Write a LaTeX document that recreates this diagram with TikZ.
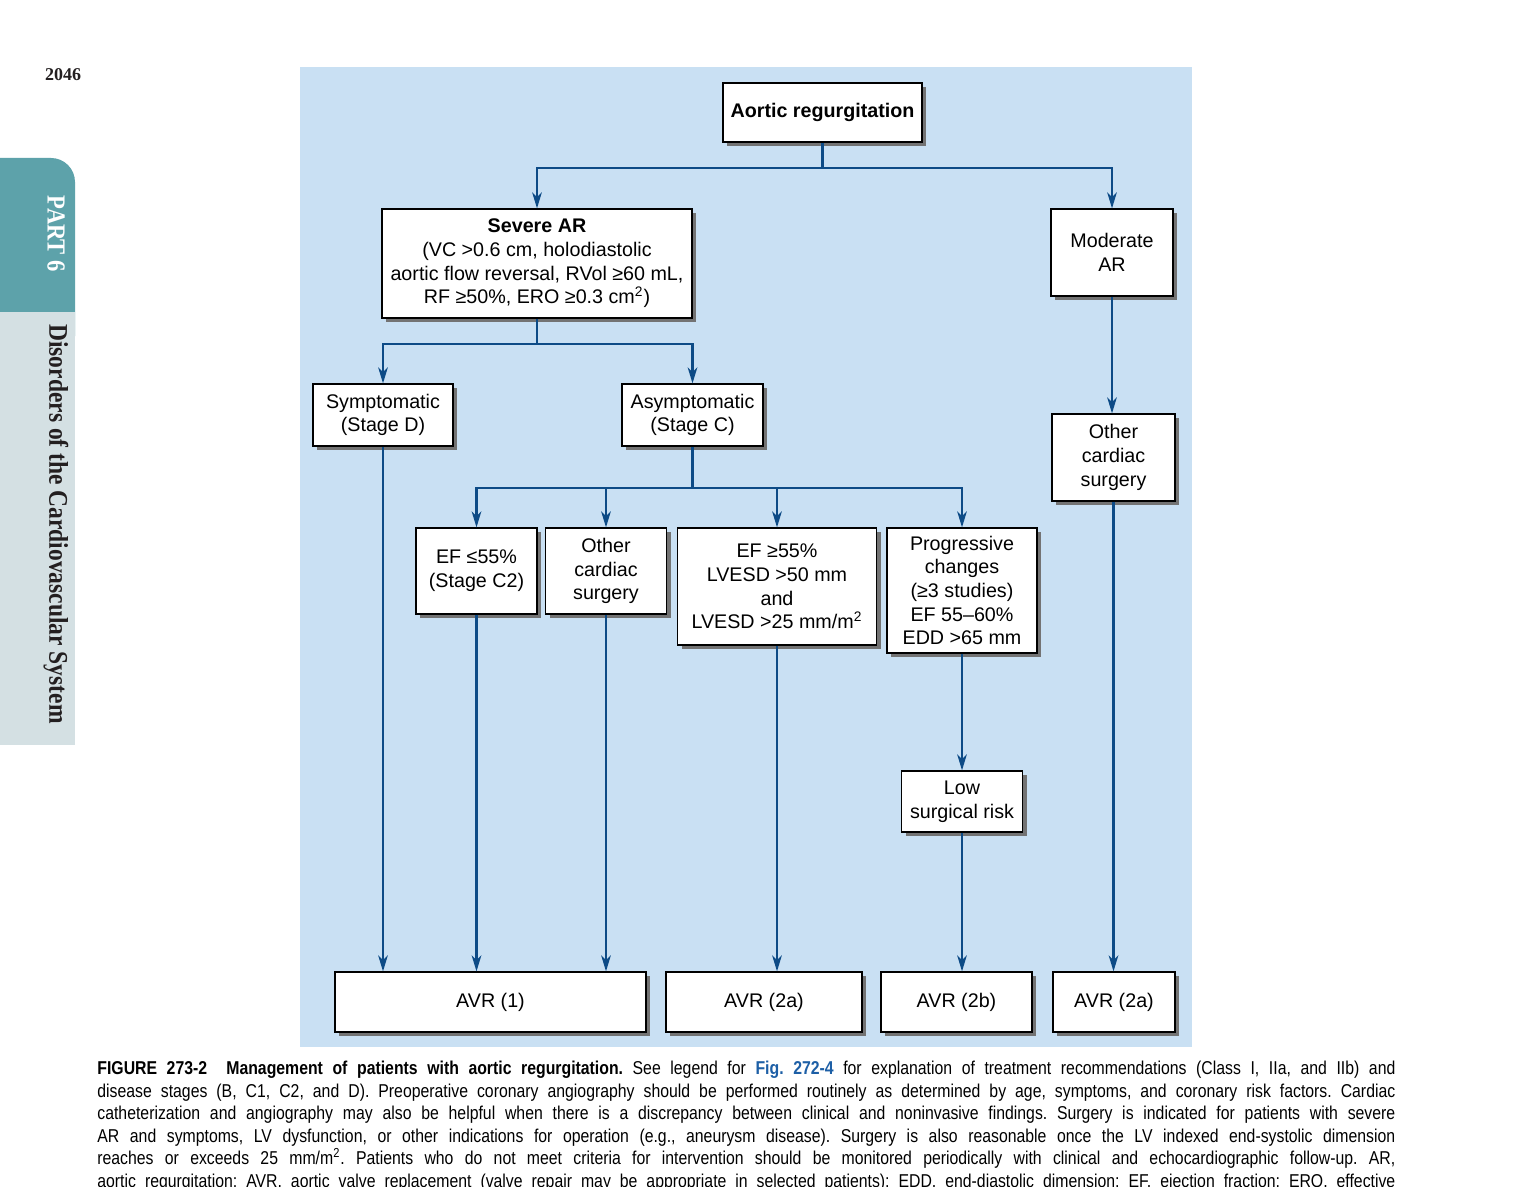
\documentclass[tikz,border=0pt]{standalone}
\usepackage{fontspec}
\setmainfont{Liberation Sans}
\newfontfamily\capfont[FakeStretch=0.85]{Liberation Sans}
\newfontfamily\tabfont[FakeStretch=0.87]{Liberation Serif}
\newfontfamily\pgnfont{Liberation Serif}
\usetikzlibrary{arrows.meta,shadows}
\definecolor{panelblue}{HTML}{C9E0F3}
\definecolor{linkblue}{HTML}{0D4B86}
\definecolor{tabteal}{HTML}{5DA2AA}
\definecolor{tabgray}{HTML}{D4E0E3}
\definecolor{figblue}{HTML}{1D5FA6}
\definecolor{tabtext}{HTML}{231F20}
\newcommand\bxfont{\fontsize{9.85pt}{11.85pt}\selectfont}
\begin{document}
\frenchspacing
\begin{tikzpicture}[x=0.5pt,y=-0.5pt,
  box/.style={draw=black, line width=0.6pt, fill=white, align=center, inner sep=0pt,
    font=\bxfont,
    drop shadow={shadow xshift=2.2pt, shadow yshift=-2.2pt, fill=black!55, opacity=1}},
  bbox/.style={box, font=\bxfont\bfseries},
  arr/.style={draw=linkblue, line width=1.2pt, -{Stealth[length=8pt,width=4.8pt,inset=2.4pt]}},
  ln/.style={draw=linkblue, line width=1.2pt}]
\useasboundingbox (0,0) rectangle (1530,1187);
\clip (0,0) rectangle (1530,1187);
\fill[white] (0,0) rectangle (1530,1187);
% side tab
\fill[tabteal, rounded corners=12pt] (-40,158) rectangle (75,360);
\fill[tabgray] (0,312) rectangle (75,745);
\node[rotate=-90, text=white, font=\tabfont\bfseries\fontsize{13pt}{13pt}\selectfont] (part) at (56,234) {PART 6};
\node[rotate=-90, text=tabtext, font=\tabfont\bfseries\fontsize{13.5pt}{13.5pt}\selectfont] (tabtitle) at (56,524) {Disorders of the Cardiovascular System};
\node[text=tabtext, font=\pgnfont\bfseries\fontsize{9pt}{9pt}\selectfont] (pgno) at (63,75) {2046};
% panel
\fill[panelblue] (300,67) rectangle (1192,1047);
% boxes
\node[bbox, minimum width=99.5pt, minimum height=29.5pt] (ar) at (822.5,112.5) {Aortic regurgitation};
\node[box, minimum width=155pt, minimum height=54.5pt] (severe) at (537,263.5)
  {\textbf{Severe AR}\\(VC >0.6 cm, holodiastolic\\aortic flow reversal, RVol ≥60 mL,\\RF ≥50\%, ERO ≥0.3 cm\textsuperscript{2})};
\node[box, minimum width=61pt, minimum height=43.5pt] (moderate) at (1112,252.5) {Moderate\\AR};
\node[box, minimum width=70pt, minimum height=31pt] (symp) at (383,415) {Symptomatic\\(Stage D)};
\node[box, minimum width=70.5pt, minimum height=31pt] (asymp) at (692.5,415) {Asymptomatic\\(Stage C)};
\node[box, minimum width=61.5pt, minimum height=43.5pt] (ocsr) at (1113.5,457.5) {Other\\cardiac\\surgery};
\node[box, minimum width=60.5pt, minimum height=43pt] (ef1) at (476.5,571) {EF ≤55\%\\(Stage C2)};
\node[box, minimum width=60.5pt, minimum height=43pt] (ocsm) at (606,571) {Other\\cardiac\\surgery};
\node[box, minimum width=99.5pt, minimum height=58.5pt] (ef2) at (777,586.5) {EF ≥55\%\\LVESD >50 mm\\and\\LVESD >25 mm/m\textsuperscript{2}};
\node[box, minimum width=75pt, minimum height=62.5pt] (prog) at (962,590.5) {Progressive\\changes\\(≥3 studies)\\EF 55–60\%\\EDD >65 mm};
\node[box, minimum width=60.5pt, minimum height=30.5pt] (low) at (962,801.5) {Low\\surgical risk};
\node[box, minimum width=155.5pt, minimum height=30pt] (avr1) at (490.5,1002) {AVR (1)};
\node[box, minimum width=98pt, minimum height=30pt] (avr2a) at (764,1002) {AVR (2a)};
\node[box, minimum width=75.5pt, minimum height=30pt] (avr2b) at (956.5,1002) {AVR (2b)};
\node[box, minimum width=61pt, minimum height=30pt] (avr2r) at (1114,1002) {AVR (2a)};
% connectors
\coordinate (j1) at (822.5,168);
\draw[ln] (ar.south) -- (j1);
\draw[arr] (j1) -| (severe.north);
\draw[arr] (j1) -| (moderate.north);
\coordinate (j2) at (537,344);
\draw[ln] (severe.south) -- (j2);
\draw[arr] (j2) -| (symp.north);
\draw[arr] (j2) -| (asymp.north);
\coordinate (j3) at (692.5,488);
\draw[ln] (asymp.south) -- (j3);
\draw[arr] (j3) -| (ef1.north);
\draw[arr] (j3) -| (ocsm.north);
\draw[arr] (j3) -| (ef2.north);
\draw[arr] (j3) -| (prog.north);
\draw[arr] (moderate.south) -- (moderate.south |- ocsr.north);
\draw[arr] (symp.south) -- (symp.south |- avr1.north);
\draw[arr] (ef1.south) -- (ef1.south |- avr1.north);
\draw[arr] (ocsm.south) -- (ocsm.south |- avr1.north);
\draw[arr] (ef2.south) -- (ef2.south |- avr2a.north);
\draw[arr] (prog.south) -- (prog.south |- low.north);
\draw[arr] (low.south) -- (low.south |- avr2b.north);
\draw[arr] (ocsr.south) -- (ocsr.south |- avr2r.north);
% caption
\node[anchor=north west, inner sep=0pt, text width=649pt, align=justify,
  font=\capfont\fontsize{9.3pt}{11.25pt}\selectfont] (cap) at (97,1061)
{\textbf{FIGURE 273-2\ \ Management of patients with aortic regurgitation.} See legend for \textcolor{figblue}{\textbf{Fig. 272-4}} for explanation of treatment recommendations (Class I, IIa, and IIb) and\linebreak
disease stages (B, C1, C2, and D). Preoperative coronary angiography should be performed routinely as determined by age, symptoms, and coronary risk factors. Cardiac\linebreak
catheterization and angiography may also be helpful when there is a discrepancy between clinical and noninvasive findings. Surgery is indicated for patients with severe\linebreak
AR and symptoms, LV dysfunction, or other indications for operation (e.g., aneurysm disease). Surgery is also reasonable once the LV indexed end-systolic dimension\linebreak
reaches or exceeds 25 mm/m\textsuperscript{2}. Patients who do not meet criteria for intervention should be monitored periodically with clinical and echocardiographic follow-up. AR,\linebreak
aortic regurgitation; AVR, aortic valve replacement (valve repair may be appropriate in selected patients); EDD, end-diastolic dimension; EF, ejection fraction; ERO, effective\linebreak
};
\end{tikzpicture}
\end{document}
